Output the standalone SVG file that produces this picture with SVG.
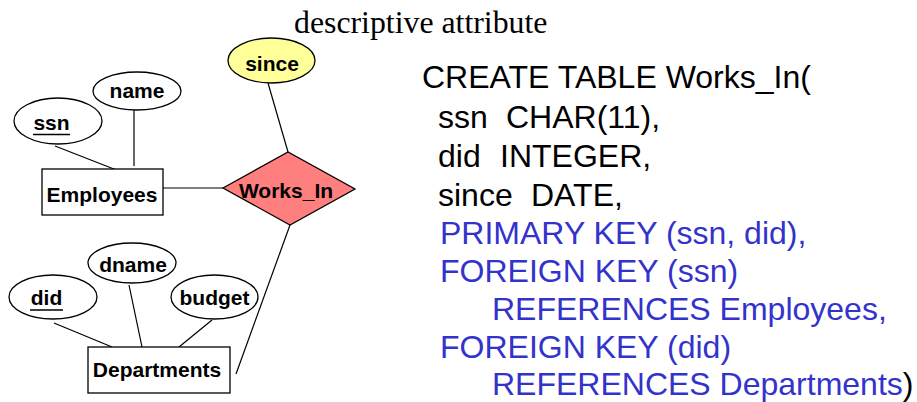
<svg xmlns="http://www.w3.org/2000/svg" width="917" height="402" viewBox="0 0 917 402">
  <style>
    .shape { stroke: #000; stroke-width: 1.3; }
    .plain { fill: #fff; }
    .attr-rel { fill: #ffff99; }
    .rel { fill: #ff7f7f; }
    .lbl { font-family: "Liberation Sans", Arial, sans-serif; font-weight: bold; font-size: 21px; fill: #000; text-anchor: middle; }
    .key { stroke: #000; stroke-width: 1.4; }
    .edge { stroke: #000; stroke-width: 1.2; fill: none; }
    .title { font-family: "Liberation Serif", "Times New Roman", serif; font-size: 31.8px; fill: #000; }
    .sql { font-family: "Liberation Sans", Arial, sans-serif; font-size: 32px; fill: #000; }
    .blue { fill: #3333cc; }
  </style>
  <rect width="917" height="402" fill="#fff"/>

  <text class="title" x="294" y="33">descriptive attribute</text>

  <!-- connectors -->
  <g id="connectors">
    <line class="edge" x1="55" y1="146" x2="119" y2="171"/>
    <line class="edge" x1="134" y1="110" x2="134" y2="166"/>
    <line class="edge" x1="163" y1="188" x2="223" y2="188"/>
    <line class="edge" x1="268" y1="83" x2="288" y2="152"/>
    <line class="edge" x1="290" y1="225" x2="236" y2="374"/>
    <line class="edge" x1="54" y1="323" x2="112" y2="347"/>
    <line class="edge" x1="129" y1="285" x2="142" y2="347"/>
    <line class="edge" x1="212" y1="320" x2="179" y2="347"/>
  </g>

  <g id="ssn">
    <ellipse class="shape plain" cx="58" cy="121" rx="44" ry="23"/>
    <text class="lbl" x="51.5" y="130">ssn</text>
    <line class="key" x1="33" y1="134.5" x2="70" y2="134.5"/>
  </g>
  <g id="name">
    <ellipse class="shape plain" cx="137" cy="91" rx="44" ry="19"/>
    <text class="lbl" x="137" y="98">name</text>
  </g>
  <g id="since">
    <ellipse class="shape attr-rel" cx="271.5" cy="60.5" rx="43.5" ry="22.5"/>
    <text class="lbl" x="272" y="71">since</text>
  </g>
  <g id="employees">
    <rect class="shape plain" x="42" y="169" width="121" height="46"/>
    <text class="lbl" x="102" y="202">Employees</text>
  </g>
  <g id="works_in">
    <polygon class="shape rel" points="223,188 288,152 355,189 290,225"/>
    <text class="lbl" x="286" y="198">Works_In</text>
  </g>
  <g id="dname">
    <ellipse class="shape plain" cx="132" cy="263" rx="44" ry="20"/>
    <text class="lbl" x="133" y="272">dname</text>
  </g>
  <g id="did">
    <ellipse class="shape plain" cx="53" cy="297" rx="44" ry="22"/>
    <text class="lbl" x="46.5" y="305">did</text>
    <line class="key" x1="30" y1="310" x2="63" y2="310"/>
  </g>
  <g id="budget">
    <ellipse class="shape plain" cx="214.5" cy="297" rx="43.5" ry="22"/>
    <text class="lbl" x="214.5" y="305">budget</text>
  </g>
  <g id="departments">
    <rect class="shape plain" x="88" y="347" width="142" height="46"/>
    <text class="lbl" x="157" y="377">Departments</text>
  </g>

  <!-- SQL definition; column types aligned with explicit x -->
  <g id="sql" class="sql">
    <text x="422" y="88">CREATE TABLE Works_In(</text>
    <text x="438" y="128">ssn<tspan x="506">CHAR(11),</tspan></text>
    <text x="438" y="167">did<tspan x="500">INTEGER,</tspan></text>
    <text x="438" y="206">since<tspan x="531">DATE,</tspan></text>
    <text x="440" y="244" class="blue">PRIMARY KEY (ssn, did),</text>
    <text x="440" y="282" class="blue">FOREIGN KEY (ssn)</text>
    <text x="492" y="320" class="blue">REFERENCES Employees,</text>
    <text x="440" y="358" class="blue">FOREIGN KEY (did)</text>
    <text x="492" y="395"><tspan class="blue">REFERENCES Departments</tspan>)</text>
  </g>
</svg>
